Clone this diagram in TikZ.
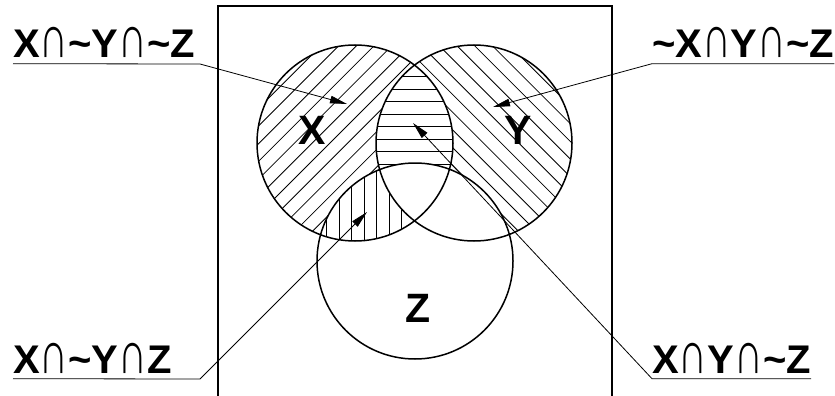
\documentclass[tikz,border=0pt]{standalone}
\usepackage{fontspec}
\usepackage{graphicx}
\setmainfont{Liberation Sans}
\usetikzlibrary{arrows.meta}

\newcommand{\inter}{\textmd{\scalebox{1}[1.5]{∩}}}
\newcommand{\nt}{\textasciitilde}

\begin{document}
\begin{tikzpicture}[x=1pt, y=-1pt, >={Triangle[length=17pt,width=7.5pt]},
    lbl/.style={font=\fontsize{40}{40}\selectfont\bfseries, inner xsep=0pt,
        inner ysep=5.5pt, text depth=0pt},
    setlbl/.style={font=\fontsize{41}{41}\selectfont\bfseries, inner sep=0pt},
    hatch/.style={line width=0.8pt},
    pointer/.style={line width=0.8pt, ->}]

    \def\R{98pt}
    \useasboundingbox (0,0) rectangle (835,396);

    % centres of the three sets
    \coordinate (cX) at (355,143);
    \coordinate (cY) at (474,143);
    \coordinate (cZ) at (415,261);

    % X only: / hatching
    \begin{scope}
        \clip (cX) circle (\R);
        \foreach \c in {0,1,...,24} {
            \draw[hatch] ({296+17.7*\c},0) -- ++(-400,400);
        }
    \end{scope}

    % Y only: \ hatching
    \begin{scope}
        \clip (cY) circle (\R);
        \foreach \c in {0,1,...,24} {
            \draw[hatch] ({128+17.7*\c},0) -- ++(400,400);
        }
    \end{scope}

    % nothing inside Z yet
    \fill[white] (cZ) circle (\R);

    % X and Z: vertical hatching
    \begin{scope}
        \clip (cX) circle (\R);
        \clip (cZ) circle (\R);
        \foreach \k in {0,1,...,8} {
            \draw[hatch] ({314.2+12.5*\k},150) -- ++(0,120);
        }
    \end{scope}

    % X and Y, not Z: horizontal hatching
    \begin{scope}
        \clip (cX) circle (\R);
        \clip (cY) circle (\R);
        \fill[white] (cX) circle (\R);
        \foreach \k in {0,1,...,8} {
            \draw[hatch] (370,{64.2+12.5*\k}) -- ++(90,0);
        }
        \fill[white] (cZ) circle (\R);
    \end{scope}

    % universe and sets
    \draw[line width=1.3pt] (218,400) -- (218,6) -- (612,6) -- (612,400);
    \draw[line width=1.5pt] (cX) circle (\R);
    \draw[line width=1.5pt] (cY) circle (\R);
    \draw[line width=1.5pt] (cZ) circle (\R);

    \node[setlbl] (nX) at (312,130) {X};
    \node[setlbl] (nY) at (518,130) {Y};
    \node[setlbl] (nZ) at (418,308) {Z};

    % region labels
    \node[lbl, anchor=base west] (xOnly) at (13,58) {X\inter\nt Y\inter\nt Z};
    \node[lbl, anchor=base west] (yOnly) at (652,58) {\nt X\inter Y\inter\nt Z};
    \node[lbl, anchor=base west] (xzOnly) at (13,373) {X\inter\nt Y\inter Z};
    \node[lbl, anchor=base west] (xyOnly) at (652,373) {X\inter Y\inter\nt Z};

    % knees and arrow tips
    \coordinate (kTL) at (200,64);
    \coordinate (kBL) at (200,379);
    \coordinate (tTL) at (347,104);
    \coordinate (tTR) at (493,107);
    \coordinate (tBL) at (367,212);
    \coordinate (tBR) at (413,123);

    % pointers
    \draw[pointer] (xOnly.south west) -- (kTL) -- (tTL);
    \draw[pointer] (yOnly.south east) -- (yOnly.south west) -- (tTR);
    \draw[pointer] (xzOnly.south west) -- (kBL) -- (tBL);
    \draw[pointer] (xyOnly.south east) -- (xyOnly.south west) -- (tBR);

\end{tikzpicture}
\end{document}
